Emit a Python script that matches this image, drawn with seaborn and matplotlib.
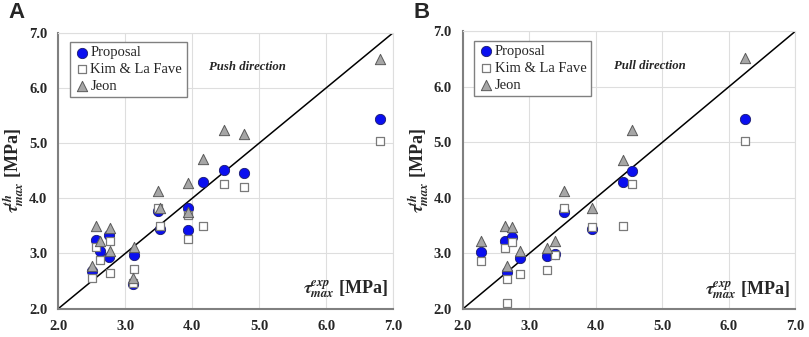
import matplotlib
matplotlib.use('Agg')
import matplotlib.pyplot as plt
import seaborn as sns

# ===== data =====
# Push direction
push_prop_x = [2.51, 2.57, 2.62, 2.76, 2.76, 3.13, 3.12, 3.49, 3.52, 3.94, 3.93, 4.16, 4.48, 4.78, 6.80]
push_prop_y = [2.69, 3.24, 3.05, 3.33, 2.93, 2.97, 2.44, 3.77, 3.44, 3.82, 3.43, 4.30, 4.51, 4.46, 5.43]
push_kim_x = [2.51, 2.57, 2.62, 2.77, 2.77, 3.13, 3.12, 3.49, 3.52, 3.93, 3.93, 4.16, 4.48, 4.78, 6.80]
push_kim_y = [2.56, 3.11, 2.89, 3.22, 2.65, 2.72, 2.46, 3.83, 3.49, 3.69, 3.26, 3.50, 4.26, 4.21, 5.04]
push_jeon_x = [2.51, 2.57, 2.62, 2.77, 2.77, 3.13, 3.12, 3.49, 3.52, 3.94, 3.93, 4.16, 4.48, 4.78, 6.80]
push_jeon_y = [2.77, 3.50, 3.23, 3.47, 3.05, 3.11, 2.56, 4.13, 3.83, 4.27, 3.75, 4.71, 5.23, 5.16, 6.52]

# Pull direction
pull_prop_x = [2.28, 2.63, 2.66, 2.74, 2.86, 3.27, 3.38, 3.52, 3.94, 4.41, 4.54, 6.24]
pull_prop_y = [3.02, 3.23, 2.66, 3.30, 2.92, 2.96, 2.99, 3.75, 3.44, 4.28, 4.49, 5.42]
pull_kim_x = [2.28, 2.63, 2.66, 2.66, 2.74, 2.86, 3.27, 3.38, 3.52, 3.94, 4.41, 4.54, 6.24]
pull_kim_y = [2.87, 3.09, 2.54, 2.10, 3.20, 2.63, 2.71, 2.97, 3.82, 3.47, 3.50, 4.25, 5.03]
pull_jeon_x = [2.28, 2.63, 2.66, 2.74, 2.86, 3.27, 3.38, 3.52, 3.94, 4.41, 4.54, 6.24]
pull_jeon_y = [3.22, 3.50, 2.77, 3.47, 3.04, 3.10, 3.23, 4.12, 3.82, 4.69, 5.22, 6.52]

series_labels = ['Proposal', 'Kim & La Fave', 'Jeon']
panel_titles = ['Push direction', 'Pull direction']
panel_letters = ['A', 'B']
ticks = [2.0, 3.0, 4.0, 5.0, 6.0, 7.0]

# ===== style =====
sns.set_style('whitegrid')
plt.rcParams['font.family'] = ['Liberation Serif', 'DejaVu Serif']
plt.rcParams['mathtext.fontset'] = 'stix'

panels = [
    (push_prop_x, push_prop_y, push_kim_x, push_kim_y, push_jeon_x, push_jeon_y),
    (pull_prop_x, pull_prop_y, pull_kim_x, pull_kim_y, pull_jeon_x, pull_jeon_y),
]
positions = [[0.072, 0.084, 0.414, 0.819], [0.572, 0.083, 0.411, 0.824]]

fig = plt.figure(figsize=(8.09, 3.37), dpi=100)

for i, (px, py, kx, ky, jx, jy) in enumerate(panels):
    ax = fig.add_axes(positions[i])
    ax.axline((2.0, 2.0), slope=1, color='black', lw=1.1, zorder=2)
    sns.scatterplot(x=px, y=py, ax=ax, marker='o', s=55, color='#0a0ff0',
                    edgecolor='#1a1a6e', linewidth=0.6, label=series_labels[0], zorder=3)
    sns.scatterplot(x=kx, y=ky, ax=ax, marker='s', s=40, color='white',
                    edgecolor='#7a7a7a', linewidth=0.9, label=series_labels[1], zorder=4)
    sns.scatterplot(x=jx, y=jy, ax=ax, marker='^', s=55, color='#a6a6a6',
                    edgecolor='#5a5a5a', linewidth=0.7, label=series_labels[2], zorder=5)

    ax.set_xlim(2.0, 7.0)
    ax.set_ylim(2.0, 7.0)
    ax.set_xticks(ticks)
    ax.set_yticks(ticks)
    ax.set_xticklabels([f'{t:.1f}' for t in ticks], fontweight='bold', fontsize=10.5)
    ax.set_yticklabels([f'{t:.1f}' for t in ticks], fontweight='bold', fontsize=10.5)
    ax.tick_params(axis='both', length=4, width=1, direction='out', color='#808080', pad=4)
    ax.grid(True, color='#dedede', lw=0.8)

    for side in ['left', 'bottom']:
        ax.spines[side].set_color('#808080')
        ax.spines[side].set_linewidth(1.5)
    for side in ['top', 'right']:
        ax.spines[side].set_color('#dedede')
        ax.spines[side].set_linewidth(0.8)

    ax.set_ylabel(r'$\mathbfit{\tau}^{\mathbfit{th}}_{\mathbfit{max}}$ [MPa]',
                  fontsize=13, fontweight='bold', labelpad=2)
    ax.set_xlabel('')
    ax.text(0.985, 0.03, r'$\mathbfit{\tau}^{\mathbfit{exp}}_{\mathbfit{max}}$ [MPa]',
            transform=ax.transAxes, ha='right', va='bottom', fontsize=13, fontweight='bold')
    ax.text(4.82, 6.38, panel_titles[i], ha='center', va='center',
            fontsize=9.2, fontweight='bold', fontstyle='italic')

    leg = ax.legend(loc='upper left', bbox_to_anchor=(0.035, 0.967), fontsize=10.5,
                    frameon=True, fancybox=False, framealpha=1, edgecolor='#808080',
                    borderpad=0.3, labelspacing=0.25, handletextpad=0.1,
                    handlelength=1.0, borderaxespad=0)
    leg.get_frame().set_linewidth(1.0)

    fig.text(positions[i][0] - 0.061, 1 - 18.5 / 337, panel_letters[i], fontsize=16,
             fontweight='bold', family='Liberation Sans', va='baseline')

plt.savefig('out.png', dpi=100)
